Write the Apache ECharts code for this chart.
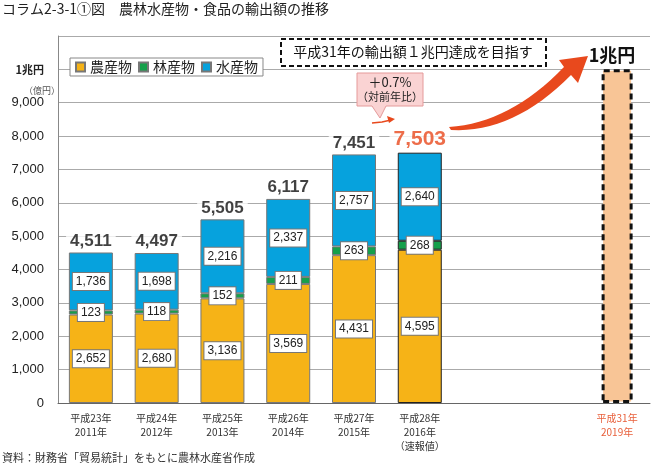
<!DOCTYPE html>
<html>
<head>
<meta charset="utf-8">
<style>
  html, body { margin: 0; padding: 0; background: #fff; }
  #chart { width: 651px; height: 467px; }
</style>
<script src="https://cdn.jsdelivr.net/npm/echarts@6/dist/echarts.min.js"></script>
</head>
<body>
<div id="chart"></div>
<script>
// カテゴリ（年）
const years = [
  '平成23年\n2011年', '平成24年\n2012年', '平成25年\n2013年', '平成26年\n2014年',
  '平成27年\n2015年', '平成28年\n2016年\n（速報値）', '', '', '平成31年\n2019年'
]
// 億円
const agri   = [2652, 2680, 3136, 3569, 4431, 4595, null, null, null]
const forest = [123, 118, 152, 211, 263, 268, null, null, null]
const fish   = [1736, 1698, 2216, 2337, 2757, 2640, null, null, null]
const totals = [4511, 4497, 5505, 6117, 7451, 7503, null, null, null]
const target = [null, null, null, null, null, null, null, null, 10000]

const fmt = v => String(v).replace(/\B(?=(\d{3})+(?!\d))/g, ',')
const FONT = '"Noto Sans CJK JP", "Liberation Sans", sans-serif'
const NUM = '"Liberation Sans Narrow", "Liberation Sans", sans-serif'

// 二次ベジェ曲線を点列にする（矢印の形用）
const quad = (p0, c, p1, n) => {
  const pts = []
  for (let i = 0; i <= n; i++) {
    const t = i / n
    pts.push([
      (1 - t) * (1 - t) * p0[0] + 2 * (1 - t) * t * c[0] + t * t * p1[0],
      (1 - t) * (1 - t) * p0[1] + 2 * (1 - t) * t * c[1] + t * t * p1[1]
    ])
  }
  return pts
}
const bigArrow = [
  ...quad([449, 127], [510, 123], [564, 67], 16),
  [559, 60], [588, 56], [578, 83],
  ...quad([571, 75], [514, 133], [451, 130], 16)
]

const segLabel = {
  show: true,
  position: 'inside',
  backgroundColor: '#fff',
  borderColor: '#777',
  borderWidth: 1,
  padding: [3, 3, 2, 3],
  fontSize: 12,
  fontFamily: NUM,
  color: '#222',
  formatter: p => fmt(p.value)
}

const mkItems = arr => arr.map((v, i) => ({
  value: v,
  itemStyle: i === 5 ? { borderColor: '#222' } : undefined
}))

const chart = echarts.init(document.getElementById('chart'))

const option = {
  animation: false,
  backgroundColor: '#fff',
  textStyle: { fontFamily: FONT },
  grid: { left: 58, right: 1, top: 36, bottom: 64 },
  legend: {
    data: ['農産物', '林産物', '水産物'],
    left: 70, top: 58,
    icon: 'rect',
    itemWidth: 9, itemHeight: 9, itemGap: 6,
    backgroundColor: '#fff',
    borderColor: '#888', borderWidth: 1,
    padding: [2, 5, 2, 5],
    textStyle: { fontSize: 14, color: '#222', fontFamily: FONT }
  },
  xAxis: [{
    type: 'category',
    data: years.map((y, i) => i === 8 ? { value: y, textStyle: { color: '#E8603C' } } : y),
    axisLine: { lineStyle: { color: '#666' } },
    axisTick: { inside: true, length: 3, lineStyle: { color: '#666' } },
    axisLabel: { fontSize: 10, color: '#333', lineHeight: 14, margin: 8, interval: 0, fontFamily: FONT }
  }, {
    type: 'category',
    data: years,
    show: false
  }],
  yAxis: {
    type: 'value',
    min: 0, max: 11000, interval: 1000,
    axisLine: { show: true, lineStyle: { color: '#888' } },
    axisTick: { show: false },
    splitLine: { lineStyle: { color: '#aaa' } },
    axisLabel: {
      fontSize: 13, color: '#222', margin: 14, fontFamily: '"Liberation Sans", sans-serif',
      formatter: v => v === 11000 ? '' : v === 10000 ? '{b|1兆円}' : fmt(v),
      rich: { b: { fontSize: 11, fontWeight: 'bold', color: '#222', fontFamily: FONT } }
    }
  },
  series: [
    {
      name: '農産物', type: 'bar', stack: 'all', barWidth: 44,
      data: mkItems(agri),
      itemStyle: { color: '#F6B317', borderColor: '#777', borderWidth: 1 },
      label: segLabel
    },
    {
      name: '林産物', type: 'bar', stack: 'all', barWidth: 44,
      data: mkItems(forest),
      itemStyle: { color: '#15A04B', borderColor: '#777', borderWidth: 1 },
      label: segLabel
    },
    {
      name: '水産物', type: 'bar', stack: 'all', barWidth: 44,
      data: mkItems(fish),
      itemStyle: { color: '#06A2DD', borderColor: '#777', borderWidth: 1 },
      label: segLabel
    },
    {
      name: '合計', type: 'scatter', symbolSize: 0,
      data: totals.map((v, i) => i === 5 ? {
        value: v,
        label: { fontSize: 21, color: '#E8491D' }
      } : v),
      label: {
        show: true, position: 'top', distance: 3,
        fontSize: 17, fontWeight: 'bold', color: '#111',
        fontFamily: '"Liberation Sans", sans-serif',
        backgroundColor: '#fff', padding: [0, 4, 0, 4],
        formatter: p => fmt(p.value)
      },
      silent: true
    },
    {
      name: '目標', type: 'bar', xAxisIndex: 1, barWidth: 31,
      data: target,
      itemStyle: { color: '#F8C596', borderColor: '#111', borderWidth: 3, borderType: [6, 4] }
    }
  ],
  graphic: [
    // タイトル
    { type: 'text', left: 2, top: 2,
      style: { text: 'コラム2-3-1①図　農林水産物・食品の輸出額の推移', fontSize: 14, fill: '#222', fontFamily: FONT } },
    // 単位
    { type: 'text', left: 24, top: 86,
      style: { text: '（億円）', fontSize: 9, fill: '#555', fontFamily: FONT } },
    // 出典
    { type: 'text', left: 2, top: 452,
      style: { text: '資料：財務省「貿易統計」をもとに農林水産省作成', fontSize: 11, fill: '#333', fontFamily: FONT } },
    // 目標の枠
    { type: 'rect', z: 10, shape: { x: 281, y: 39, width: 265, height: 27 },
      style: { fill: '#fff', stroke: '#111', lineWidth: 2, lineDash: [5, 3] } },
    { type: 'text', z: 11, x: 413, y: 52,
      style: { text: '平成31年の輸出額１兆円達成を目指す', fontSize: 14, fill: '#111', fontFamily: FONT,
        align: 'center', verticalAlign: 'middle' } },
    { type: 'text', z: 11, x: 612, y: 55,
      style: { text: '1兆円', fontSize: 18, fontWeight: 'bold', fill: '#111', fontFamily: FONT,
        align: 'center', verticalAlign: 'middle', backgroundColor: '#fff' } },
    // 吹き出し
    { type: 'polygon', z: 10,
      shape: { points: [[357, 73], [423, 73], [423, 106], [386, 106], [380, 118], [372, 106], [357, 106]] },
      style: { fill: '#FAD3D3', stroke: '#E59A9A', lineWidth: 1 } },
    { type: 'text', z: 11, x: 390, y: 82,
      style: { text: '＋0.7%', fontSize: 13, fill: '#222', fontFamily: FONT, align: 'center', verticalAlign: 'middle' } },
    { type: 'text', z: 11, x: 390, y: 97,
      style: { text: '（対前年比）', fontSize: 11, fill: '#222', fontFamily: FONT, align: 'center', verticalAlign: 'middle' } },
    // 小さい矢印
    { type: 'polyline', z: 10,
      shape: { points: [[372, 123], [382, 122], [391, 120]] },
      style: { fill: null, stroke: '#E8491D', lineWidth: 1.5 } },
    { type: 'polygon', z: 10,
      shape: { points: [[395, 119], [387, 116], [389, 123]] },
      style: { fill: '#E8491D' } },
    // 大きい矢印
    { type: 'polygon', z: 10,
      shape: { points: bigArrow },
      style: { fill: '#E8491D' } }
  ]
}

chart.setOption(option)
</script>
</body>
</html>
